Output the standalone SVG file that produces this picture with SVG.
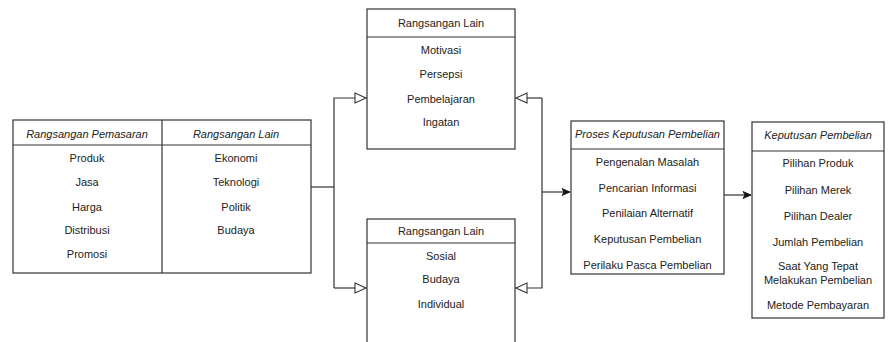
<svg xmlns="http://www.w3.org/2000/svg" width="894" height="342" viewBox="0 0 894 342">
<style>
.box{fill:#fff;stroke:#333;stroke-width:1.2}
.ln{fill:none;stroke:#333;stroke-width:1.2}
text{font-family:"Liberation Sans",Arial,sans-serif;font-size:11px;fill:#222;text-anchor:middle;dominant-baseline:central}
.it{font-style:italic}
</style>
<defs>
<marker id="open" markerWidth="14" markerHeight="12" refX="12" refY="6" orient="auto" markerUnits="userSpaceOnUse">
<path d="M1,1 L12,6 L1,11 Z" fill="#fff" stroke="#333" stroke-width="1.1"/>
</marker>
<marker id="fill" markerWidth="10" markerHeight="10" refX="9" refY="5" orient="auto" markerUnits="userSpaceOnUse">
<path d="M1,1.5 L9,5 L1,8.5 L3,5 Z" fill="#111" stroke="#111" stroke-width="0.8"/>
</marker>
</defs>
<rect width="894" height="342" fill="#fff"/>
<g id="connectors">
<path class="ln" d="M311,187 H334"/>
<path class="ln" d="M334,288 V98 H366" marker-end="url(#open)"/>
<path class="ln" d="M334,288 H366" marker-end="url(#open)"/>
<path class="ln" d="M542,98 H516" marker-end="url(#open)"/>
<path class="ln" d="M542,98 V288 H516" marker-end="url(#open)"/>
<path class="ln" d="M542,192 H570" marker-end="url(#fill)"/>
<path class="ln" d="M724,195 H751" marker-end="url(#fill)"/>
</g>
<g id="rangsangan-pemasaran">
<rect class="box" x="13" y="120" width="298" height="153"/>
<line class="ln" x1="13" y1="145" x2="311" y2="145"/>
<line class="ln" x1="162" y1="120" x2="162" y2="273"/>
<text class="it" x="87" y="134">Rangsangan Pemasaran</text>
<text x="87" y="158">Produk</text>
<text x="87" y="182">Jasa</text>
<text x="87" y="207">Harga</text>
<text x="87" y="230">Distribusi</text>
<text x="87" y="254">Promosi</text>
<text class="it" x="236" y="134">Rangsangan Lain</text>
<text x="236" y="158">Ekonomi</text>
<text x="236" y="182">Teknologi</text>
<text x="236" y="207">Politik</text>
<text x="236" y="230">Budaya</text>
</g>
<g id="rangsangan-lain-1">
<rect class="box" x="367" y="9" width="148" height="140"/>
<line class="ln" x1="367" y1="37" x2="515" y2="37"/>
<text x="441" y="23">Rangsangan Lain</text>
<text x="441" y="50">Motivasi</text>
<text x="441" y="74">Persepsi</text>
<text x="441" y="99">Pembelajaran</text>
<text x="441" y="122">Ingatan</text>
</g>
<g id="rangsangan-lain-2">
<rect class="box" x="367" y="219" width="148" height="140"/>
<line class="ln" x1="367" y1="243" x2="515" y2="243"/>
<text x="441" y="231">Rangsangan Lain</text>
<text x="441" y="256">Sosial</text>
<text x="441" y="279">Budaya</text>
<text x="441" y="304">Individual</text>
</g>
<g id="proses-keputusan">
<rect class="box" x="571" y="121" width="153" height="153"/>
<line class="ln" x1="571" y1="149" x2="724" y2="149"/>
<text class="it" x="647.5" y="134">Proses Keputusan Pembelian</text>
<text x="647.5" y="162">Pengenalan Masalah</text>
<text x="647.5" y="188">Pencarian Informasi</text>
<text x="647.5" y="213">Penilaian Alternatif</text>
<text x="647.5" y="239">Keputusan Pembelian</text>
<text x="647.5" y="265">Perilaku Pasca Pembelian</text>
</g>
<g id="keputusan-pembelian">
<rect class="box" x="752" y="122" width="132" height="196"/>
<line class="ln" x1="752" y1="151" x2="884" y2="151"/>
<text class="it" x="818" y="135">Keputusan Pembelian</text>
<text x="818" y="163">Pilihan Produk</text>
<text x="818" y="190">Pilihan Merek</text>
<text x="818" y="216">Pilihan Dealer</text>
<text x="818" y="242">Jumlah Pembelian</text>
<text x="818" y="266">Saat Yang Tepat</text>
<text x="818" y="280">Melakukan Pembelian</text>
<text x="818" y="305">Metode Pembayaran</text>
</g>
</svg>
